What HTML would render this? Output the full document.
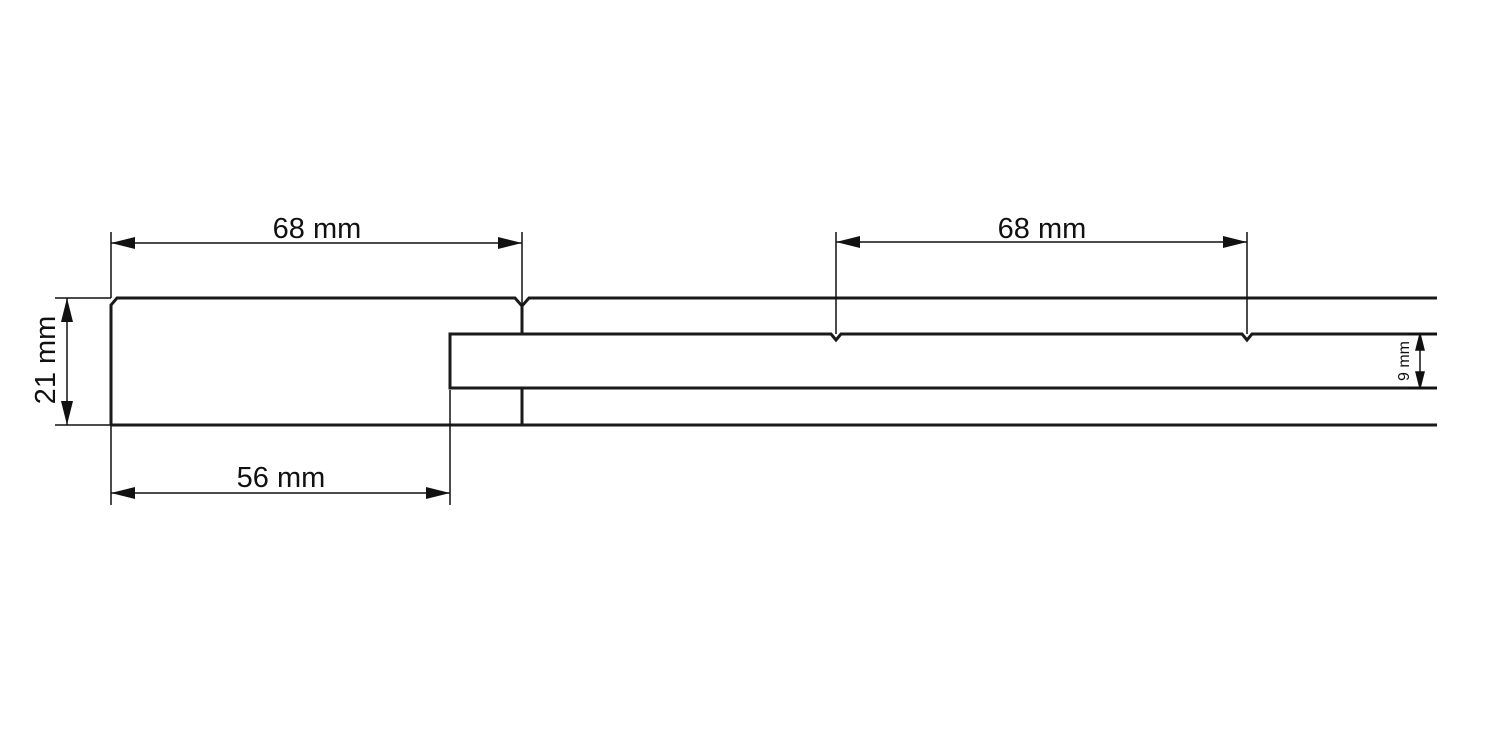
<!DOCTYPE html>
<html><head><style>html,body{margin:0;padding:0;background:#fff}svg{display:block}</style></head>
<body>
<svg width="1485" height="737" viewBox="0 0 1485 737" xmlns="http://www.w3.org/2000/svg" font-family="Liberation Sans, sans-serif">
<defs>
<marker id="a" viewBox="0 0 24 12" refX="24" refY="6" markerWidth="24" markerHeight="12" markerUnits="userSpaceOnUse" orient="auto-start-reverse"><path d="M0,0 L24,6 L0,12 z" fill="#111"/></marker>
</defs>
<g stroke="#1a1a1a" stroke-width="3" fill="none">
<path d="M111,425 L111,305 L117,298 L515,298 L522,306 L529,298 L1437,298"/>
<path d="M111,425 L1437,425"/>
<path d="M1437,334 L1252,334 L1247,340 L1242,334 L841,334 L836,340 L831,334 L450,334 L450,388 L1437,388"/>
<path d="M522,306 L522,334 M522,388 L522,425"/>
</g>
<g stroke="#111" stroke-width="1.5" fill="none">
<path d="M111,232 L111,298 M522,232 L522,306 M836,232 L836,334 M1247,232 L1247,334"/>
<path d="M55,298 L111,298 M55,425 L111,425"/>
<path d="M111,425 L111,505 M450,390 L450,505"/>
<path d="M1408,334 L1437,334 M1408,388 L1437,388"/>
<path d="M111,243 L522,243" marker-start="url(#a)" marker-end="url(#a)"/>
<path d="M836,242 L1247,242" marker-start="url(#a)" marker-end="url(#a)"/>
<path d="M111,493 L450,493" marker-start="url(#a)" marker-end="url(#a)"/>
<path d="M67,298 L67,425" marker-start="url(#a)" marker-end="url(#a)"/>
</g>
<g stroke="#111" stroke-width="1.5" fill="#111">
<path d="M1420,340 L1420,382" fill="none"/>
<path d="M1420,334 L1416,350 L1424,350 z"/>
<path d="M1420,388 L1416,372 L1424,372 z"/>
</g>
<g fill="#111" font-size="29" text-anchor="middle">
<text x="317" y="238">68 mm</text>
<text x="1042" y="238">68 mm</text>
<text x="281" y="487">56 mm</text>
<text transform="translate(55,360) rotate(-90)">21 mm</text>
<text transform="translate(1409,361) rotate(-90)" font-size="16">9 mm</text>
</g>
</svg>
</body></html>
